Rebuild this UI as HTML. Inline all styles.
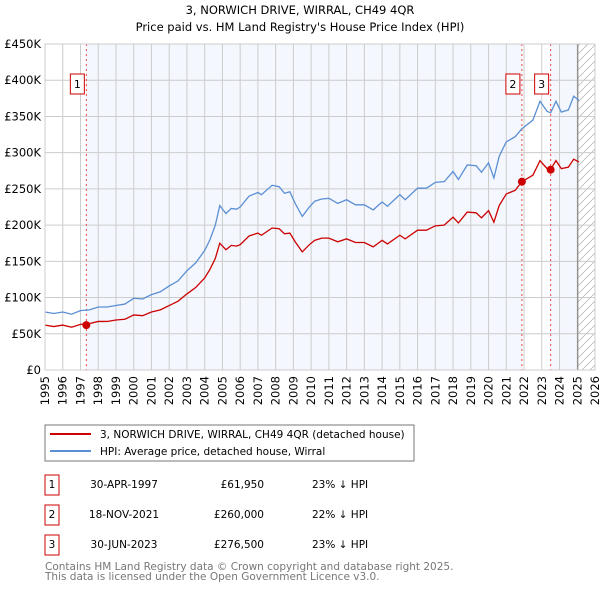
<!DOCTYPE html>
<html><head><meta charset="utf-8"><style>
body{margin:0;background:#fff;font-family:"DejaVu Sans","Liberation Sans",sans-serif;}
svg text{font-family:"DejaVu Sans","Liberation Sans",sans-serif;}
</style></head><body>
<svg id="c" width="600" height="590" xmlns="http://www.w3.org/2000/svg">
<defs><pattern id="hatch" width="8" height="8" patternUnits="userSpaceOnUse"><path d="M0,8 L8,0" stroke="#bbb" stroke-width="0.8"/></pattern></defs>
<text x="300" y="14" text-anchor="middle" font-size="11.5" fill="#000">3, NORWICH DRIVE, WIRRAL, CH49 4QR</text>
<text x="300" y="31" text-anchor="middle" font-size="11.5" fill="#000">Price paid vs. HM Land Registry's House Price Index (HPI)</text>
<g id="plot"></g>
<rect x="45" y="425" width="369" height="36" fill="#fff" stroke="#777"/>
<line x1="50" y1="434" x2="91" y2="434" stroke="#cc0000" stroke-width="2"/>
<text x="100" y="438" font-size="10.5">3, NORWICH DRIVE, WIRRAL, CH49 4QR (detached house)</text>
<line x1="50" y1="451" x2="91" y2="451" stroke="#5b8fd4" stroke-width="2"/>
<text x="100" y="455" font-size="10.5">HPI: Average price, detached house, Wirral</text>
<g font-size="10.5">
<rect x="45" y="475" width="14" height="20" fill="#fff" stroke="#cc0000"/><text x="52" y="488" text-anchor="middle">1</text>
<text x="124" y="488" text-anchor="middle">30-APR-1997</text><text x="264" y="488" text-anchor="end">£61,950</text><text x="312" y="488">23% ↓ HPI</text>
<rect x="45" y="505" width="14" height="20" fill="#fff" stroke="#cc0000"/><text x="52" y="518" text-anchor="middle">2</text>
<text x="124" y="518" text-anchor="middle">18-NOV-2021</text><text x="264" y="518" text-anchor="end">£260,000</text><text x="312" y="518">22% ↓ HPI</text>
<rect x="45" y="535" width="14" height="20" fill="#fff" stroke="#cc0000"/><text x="52" y="548" text-anchor="middle">3</text>
<text x="124" y="548" text-anchor="middle">30-JUN-2023</text><text x="264" y="548" text-anchor="end">£276,500</text><text x="312" y="548">23% ↓ HPI</text>
</g>
<text x="45" y="570" font-size="10.5" fill="#777">Contains HM Land Registry data © Crown copyright and database right 2025.</text>
<text x="45" y="580" font-size="10.5" fill="#777">This data is licensed under the Open Government Licence v3.0.</text>
</svg>
<script>
const years=[1995,1995.5,1996,1996.5,1997,1997.5,1998,1998.5,1999,1999.5,2000,2000.5,2001,2001.5,2002,2002.5,2003,2003.5,2004,2004.3,2004.6,2004.85,2005.2,2005.5,2005.8,2006,2006.5,2007,2007.2,2007.8,2008.2,2008.5,2008.8,2009.1,2009.5,2009.9,2010.2,2010.6,2011,2011.5,2012,2012.5,2013,2013.5,2014,2014.3,2015,2015.3,2016,2016.5,2017,2017.5,2018,2018.3,2018.8,2019.3,2019.6,2020,2020.3,2020.6,2021,2021.5,2021.88,2022.5,2022.9,2023.3,2023.5,2023.8,2024.1,2024.5,2024.8,2025.1];
const hpiK=[80,78,80,77,82,83,87,87,89,91,99,98,104,108,116,123,137,148,165,180,200,227,216,223,222,225,240,245,242,255,253,244,246,230,212,225,233,236,237,230,235,228,228,221,232,226,242,235,251,251,259,260,274,263,283,282,273,286,265,295,315,322,333,345,371,357,355,371,356,359,378,372];
const priceK=[62,60,62,59,63,64,67,67,69,70,76,75,80,83,89,95,105,114,127,139,154,175,166,172,171,173,185,189,186,196,195,188,189,177,163,173,179,182,182,177,181,176,176,170,179,174,186,181,193,193,199,200,211,203,218,217,210,220,204,227,243,248,260,269,289,278,277,289,278,280,291,287];
const saleYears=[1997.33,2021.88,2023.5];
const salePrices=[61950,260000,276500];
const saleLabels=["1","2","3"];
const yTicks=[0,50000,100000,150000,200000,250000,300000,350000,400000,450000];
const yTickLabels=["£0","£50K","£100K","£150K","£200K","£250K","£300K","£350K","£400K","£450K"];
const xTicks=[1995,1996,1997,1998,1999,2000,2001,2002,2003,2004,2005,2006,2007,2008,2009,2010,2011,2012,2013,2014,2015,2016,2017,2018,2019,2020,2021,2022,2023,2024,2025,2026];
const dataEnd=2025.03;
const X0=45,X1=595,Y0=370,Y1=44;
const xs=y=>X0+(y-1995)/(2026-1995)*(X1-X0);
const ys=v=>Y0-v/450000*(Y0-Y1);
const NS="http://www.w3.org/2000/svg";
const g=document.getElementById('plot');
function mk(t,a){const e=document.createElementNS(NS,t);for(const k in a)e.setAttribute(k,a[k]);g.appendChild(e);return e;}
let e;
e=mk('rect',{x:xs(saleYears[0]),y:Y1,width:xs(saleYears[1])-xs(saleYears[0]),height:Y0-Y1,fill:'#f4f7fd'});


e=mk('rect',{x:xs(saleYears[2]),y:Y1,width:xs(dataEnd)-xs(saleYears[2]),height:Y0-Y1,fill:'#f4f7fd'});


e=mk('rect',{x:xs(dataEnd),y:Y1,width:X1-xs(dataEnd),height:Y0-Y1,fill:'url(#hatch)'});


xTicks.forEach(t=>{
 e=mk('line',{x1:xs(t),x2:xs(t),y1:Y1,y2:Y0,stroke:'#ccc','stroke-width':1});
 
 
 e=mk('text',{x:0,y:0,transform:`translate(${xs(t)+4},${Y0+6}) rotate(-90)`,'text-anchor':'end','font-size':11.5});
 e.textContent=t;
 
 
});
yTicks.forEach((t,i)=>{
 e=mk('line',{x1:X0,x2:X1,y1:ys(t),y2:ys(t),stroke:'#ccc','stroke-width':1});
 
 
 e=mk('text',{x:X0-4,y:ys(t)+4,'text-anchor':'end','font-size':11.5});
 e.textContent=yTickLabels[i];
 
 
});
e=mk('line',{x1:xs(dataEnd),x2:xs(dataEnd),y1:Y1,y2:Y0,stroke:'#888','stroke-width':1.2});


saleYears.forEach((s,i)=>{
 e=mk('line',{x1:xs(s),x2:xs(s),y1:Y1,y2:Y0,stroke:'#e44','stroke-width':1,'stroke-dasharray':'2,3'});
 
 
});
e=mk('polyline',{points:years.map((y,i)=>xs(y)+','+ys(hpiK[i]*1000)).join(' '),fill:'none',stroke:'#5b8fd4','stroke-width':1.3});


e=mk('polyline',{points:years.map((y,i)=>xs(y)+','+ys(priceK[i]*1000)).join(' '),fill:'none',stroke:'#cc0000','stroke-width':1.3});


saleYears.forEach((s,i)=>{
 e=mk('circle',{cx:xs(s),cy:ys(salePrices[i]),r:4,fill:'#cc0000'});
 
 
 e=mk('rect',{x:xs(s)-16,y:74,width:14,height:20,fill:'#fff',stroke:'#cc0000'});
 
 
 e=mk('text',{x:xs(s)-9,y:88,'text-anchor':'middle','font-size':11});
 e.textContent=saleLabels[i];
 
 
});
e=mk('rect',{x:X0,y:Y1,width:X1-X0,height:Y0-Y1,fill:'none',stroke:'#ccc'});


</script>
</body></html>
